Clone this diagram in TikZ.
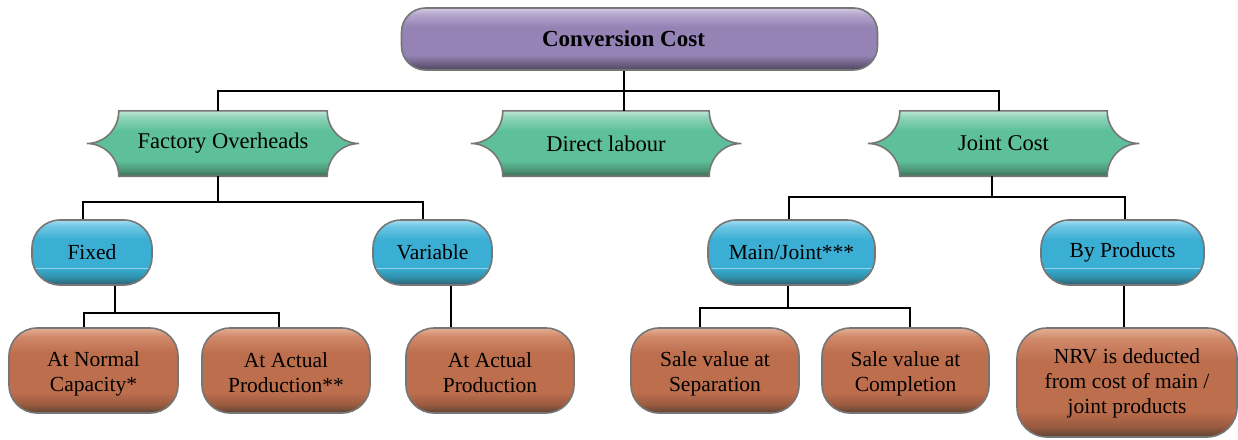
\documentclass[tikz,border=0pt]{standalone}
\usepackage{fontspec}
\setmainfont{Liberation Serif}
\usetikzlibrary{backgrounds,calc}
\definecolor{boxedge}{RGB}{118,118,118}
% purple
\definecolor{pD}{RGB}{78,69,96}\definecolor{pD2}{RGB}{108,95,130}\definecolor{pM}{RGB}{149,131,181}\definecolor{pL}{RGB}{181,166,204}\definecolor{pT}{RGB}{213,202,226}
% green
\definecolor{gD}{RGB}{61,106,88}\definecolor{gD2}{RGB}{78,152,120}\definecolor{gM}{RGB}{94,192,155}\definecolor{gL}{RGB}{142,211,184}\definecolor{gT}{RGB}{192,230,216}
% blue
\definecolor{bD}{RGB}{47,95,110}\definecolor{bD2}{RGB}{47,143,170}\definecolor{bM}{RGB}{58,174,211}\definecolor{bL}{RGB}{108,198,228}\definecolor{bT}{RGB}{168,221,240}
% brown
\definecolor{rD}{RGB}{94,68,52}\definecolor{rD2}{RGB}{154,91,64}\definecolor{rM}{RGB}{189,110,77}\definecolor{rL}{RGB}{208,137,106}\definecolor{rT}{RGB}{228,176,148}
\pgfdeclareverticalshading{purpshade}{100bp}{color(0bp)=(pD); color(25bp)=(pD); color(30bp)=(pD2); color(37bp)=(pM); color(60bp)=(pM); color(70bp)=(pL); color(75bp)=(pT); color(100bp)=(pT)}
\pgfdeclareverticalshading{greenshade}{100bp}{color(0bp)=(gD); color(25bp)=(gD); color(30bp)=(gD2); color(37bp)=(gM); color(60bp)=(gM); color(70bp)=(gL); color(75bp)=(gT); color(100bp)=(gT)}
\pgfdeclareverticalshading{blueshade}{100bp}{color(0bp)=(bD); color(25bp)=(bD); color(31bp)=(bD2); color(38bp)=(bM); color(60bp)=(bM); color(70bp)=(bL); color(75bp)=(bT); color(100bp)=(bT)}
\pgfdeclareverticalshading{brownshade}{100bp}{color(0bp)=(rD); color(25bp)=(rD); color(30bp)=(rD2); color(37bp)=(rM); color(60bp)=(rM); color(70bp)=(rL); color(75bp)=(rT); color(100bp)=(rT)}
\newcommand\greenshape[1]{%
  \shadedraw[gshape] (#1.north west) .. controls +(0,18) and +(18,0) .. ($(#1.west)+(-32,0)$)
    .. controls +(18,0) and +(0,-18) .. (#1.south west) -- (#1.south east)
    .. controls +(0,-18) and +(-18,0) .. ($(#1.east)+(32,0)$)
    .. controls +(-18,0) and +(0,18) .. (#1.north east) -- cycle;}
\newcommand\lsa{\rule[-3.5pt]{0pt}{25pt}}
\newcommand\lsb{\rule[-7pt]{0pt}{25pt}}
\begin{document}
\begin{tikzpicture}[x=1pt,y=-1pt,
  txt/.style={inner sep=0pt, align=center, text=black, font=\fontsize{21.5}{25}\selectfont},
  box/.style={txt, draw=boxedge, line width=1.6pt, shade},
  topbox/.style={box, shading=purpshade, rounded corners=24pt, minimum width=476pt, minimum height=62pt, font=\fontsize{23}{26}\selectfont\bfseries},
  gbox/.style={txt, minimum height=65pt, font=\fontsize{22.5}{26}\selectfont},
  gshape/.style={draw=boxedge, line width=1.6pt, shading=greenshade},
  bbox/.style={box, shading=blueshade, rounded corners=28pt, minimum height=65pt,
    path picture={\draw[white, opacity=0.45, line width=0.8pt] ([yshift=17pt]path picture bounding box.south west) -- ([yshift=17pt]path picture bounding box.south east);}},
  rbox/.style={box, shading=brownshade, rounded corners=28pt, minimum height=85pt, minimum width=168pt},
  conn/.style={draw=black, line width=1.3pt}]
\useasboundingbox (0,0) rectangle (1238,439);
% level 0
\node[topbox] (cc) at (639.5,39) {\hspace*{-32pt}Conversion Cost};
% level 1
\node[gbox, minimum width=208pt] (fo) at (223,143.5) {Factory Overheads};
\node[gbox, minimum width=206pt] (dl) at (606,143.5) {Direct labour};
\node[gbox, minimum width=207pt] (jc) at (1003.5,143.5) {Joint Cost};
\begin{pgfonlayer}{background}
\greenshape{fo}
\greenshape{dl}
\greenshape{jc}
\end{pgfonlayer}
% level 2
\node[bbox, minimum width=120pt] (fx) at (92,252.5) {Fixed};
\node[bbox, minimum width=119pt] (va) at (432.5,252.5) {Variable};
\node[bbox, minimum width=167pt] (mj) at (791.5,252.5) {Main/Joint***};
\node[bbox, minimum width=163pt] (bp) at (1122.5,252.5) {By Products};
% level 3
\node[rbox, minimum width=169pt] (nc) at (93.5,370.5) {\lsa At Normal\\\lsa Capacity*};
\node[rbox] (ap) at (286,370.5) {\lsa At Actual\\\lsa Production**};
\node[rbox] (ap2) at (490,370.5) {\lsa At Actual\\\lsa Production};
\node[rbox] (sv1) at (715,370.5) {\lsa Sale value at\\\lsa Separation};
\node[rbox, minimum width=167pt] (sv2) at (905.5,370.5) {\lsa Sale value at\\\lsa Completion};
\node[rbox, minimum width=220pt, minimum height=109pt, rounded corners=30pt] (nrv) at (1127,382.5) {\lsb NRV is deducted\\\lsb from cost of main /\\\lsb joint products};
% connectors
\coordinate (b1) at (624,91);
\coordinate (b2) at (218,202);
\coordinate (b3) at (992,197);
\coordinate (b4) at (115,313);
\coordinate (b5) at (788,308);
\draw[conn] ([xshift=-15.5pt]cc.south) -- ([xshift=18pt]dl.north);
\draw[conn] ([xshift=-5pt]fo.north) |- (b1) -| ([xshift=-4.5pt]jc.north);
\draw[conn] ([xshift=-5pt]fo.south) -- (b2);
\draw[conn] ([xshift=-9pt]fx.north) |- (b2) -| ([xshift=-9.5pt]va.north);
\draw[conn] ([xshift=-11.5pt]jc.south) -- (b3);
\draw[conn] ([xshift=-2.5pt]mj.north) |- (b3) -| ([xshift=2.5pt]bp.north);
\draw[conn] ([xshift=23pt]fx.south) -- (b4);
\draw[conn] ([xshift=-9.5pt]nc.north) |- (b4) -| ([xshift=-7pt]ap.north);
\draw[conn] ([xshift=18.5pt]va.south) -- ([xshift=-39pt]ap2.north);
\draw[conn] ([xshift=-3.5pt]mj.south) -- (b5);
\draw[conn] ([xshift=-15pt]sv1.north) |- (b5) -| ([xshift=4.5pt]sv2.north);
\draw[conn] ([xshift=1.5pt]bp.south) -- ([xshift=-3pt]nrv.north);
\end{tikzpicture}
\end{document}
